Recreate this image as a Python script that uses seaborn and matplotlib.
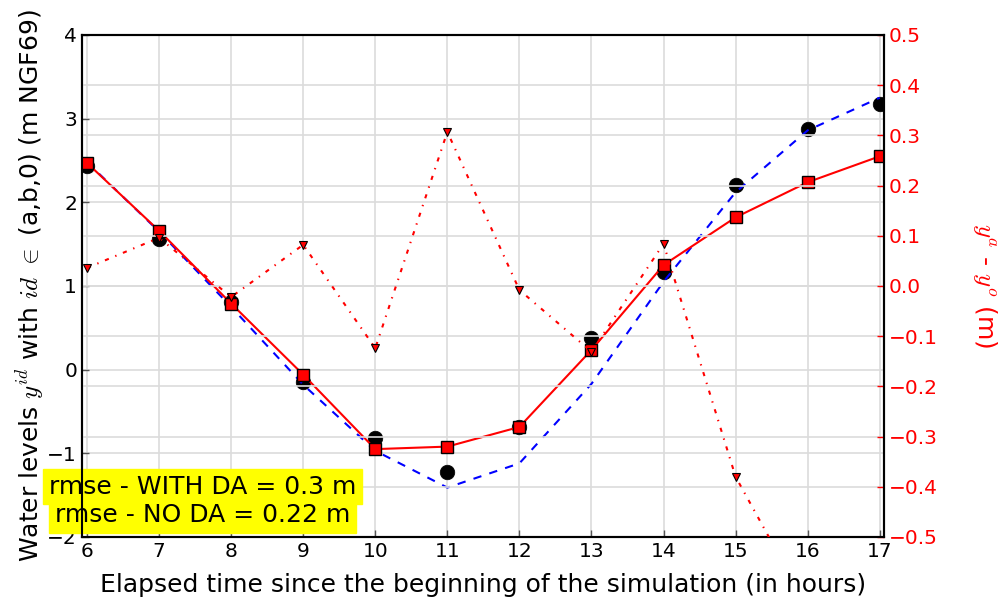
import numpy as np
import matplotlib
matplotlib.use("Agg")
import matplotlib.pyplot as plt
import seaborn as sns

# heures depuis le debut de la simulation
hours = [6, 7, 8, 9, 10, 11, 12, 13, 14, 15, 16, 17]
# observations (cercles noirs)
obs = [2.43, 1.56, 0.81, -0.15, -0.82, -1.22, -0.68, 0.38, 1.17, 2.21, 2.88, 3.18]
# simulation sans assimilation (tirets bleus)
no_da = [2.48, 1.65, 0.75, -0.18, -0.97, -1.41, -1.12, -0.17, 1.05, 2.12, 2.86, 3.25]
# simulation avec assimilation (carres rouges)
with_da = [2.47, 1.66, 0.79, -0.06, -0.95, -0.92, -0.685, 0.235, 1.25, 1.82, 2.24, 2.55]
# ecart y^a - y^o (axe de droite)
diff = [0.036, 0.096, -0.022, 0.082, -0.124, 0.307, -0.008, -0.131, 0.084, -0.38, -0.64, -0.70]

left_ticks = [-2, -1, 0, 1, 2, 3, 4]
right_ticks = [-0.5, -0.4, -0.3, -0.2, -0.1, 0.0, 0.1, 0.2, 0.3, 0.4, 0.5]

sns.set_style("whitegrid", {"axes.edgecolor": "black", "grid.color": "#dcdcdc",
                            "xtick.direction": "in", "ytick.direction": "in",
                            "text.color": "black", "axes.labelcolor": "black",
                            "xtick.color": "black", "ytick.color": "black"})
plt.rcParams['font.family'] = ['DejaVu Sans']
plt.rcParams['mathtext.fontset'] = 'cm'
plt.rcParams['lines.scale_dashes'] = False  # motifs de tirets "classic"

fig = plt.figure(figsize=(10.07, 6.03), dpi=100)
ax1 = fig.add_axes([0.0814, 0.1095, 0.7965, 0.8325])

sns.scatterplot(x=hours, y=obs, color="black", s=110, edgecolor="black", linewidth=0.5,
                ax=ax1, zorder=3)
sns.lineplot(x=hours, y=no_da, color="blue", linestyle=(0, (6, 6)), linewidth=1.5,
             ax=ax1, zorder=4)
sns.lineplot(x=hours, y=with_da, color="red", linewidth=1.5, marker="s", markersize=9,
             markerfacecolor="red", markeredgecolor="black", markeredgewidth=1.0,
             ax=ax1, zorder=5)

ax1.set_xlim(5.93, 17.06)
ax1.set_ylim(-2, 4)
ax1.set_xticks(hours)
ax1.set_yticks(left_ticks)
ax1.tick_params(labelsize=14.5, length=5, width=1, direction="in", color="#555555",
                labelcolor="black", bottom=True, left=True)
ax1.grid(True, color="#dcdcdc", linewidth=1.2)
ax1.set_xlabel("Elapsed time since the beginning of the simulation (in hours)", fontsize=18,
               labelpad=9)
ax1.set_ylabel(r"Water levels $y^{id}$ with $id$ $\in$ (a,b,0) (m NGF69)", fontsize=18,
               labelpad=0)
for sp in ax1.spines.values():
    sp.set_color("black")
    sp.set_linewidth(1.5)

ax2 = ax1.twinx()
sns.lineplot(x=hours, y=diff, color="red", linestyle=(0, (3, 5, 1, 5)), linewidth=1.5,
             marker="v", markersize=6, markerfacecolor="red", markeredgecolor="black",
             markeredgewidth=0.8, ax=ax2, zorder=3)
ax2.set_ylim(-0.5, 0.5)
ax2.set_yticks(right_ticks)
ax2.set_yticklabels([f"{t:.1f}".replace("-", "\u2212") for t in right_ticks])
ax2.tick_params(axis="y", labelsize=14.5, colors="red", length=5, width=1,
                direction="in", right=True)
ax2.grid(True, axis="y", color="#dcdcdc", linewidth=1.2)
ax2.set_ylabel(r"$y^a$ - $y^o$ (m)", color="red", fontsize=18, rotation=270, labelpad=44)
for sp in ax2.spines.values():
    sp.set_color("black")
    sp.set_linewidth(1.5)

# encadres rmse (au-dessus de la grille de droite, sous les bords)
ax2.text(7.6, -1.40, "rmse - WITH DA = 0.3 m", transform=ax1.transData, fontsize=18,
         ha="center", va="center", color="black", backgroundcolor="yellow", zorder=2)
ax2.text(7.6, -1.74, "rmse - NO DA = 0.22 m", transform=ax1.transData, fontsize=18,
         ha="center", va="center", color="black", backgroundcolor="yellow", zorder=2)

fig.savefig("out.png", dpi=100)
